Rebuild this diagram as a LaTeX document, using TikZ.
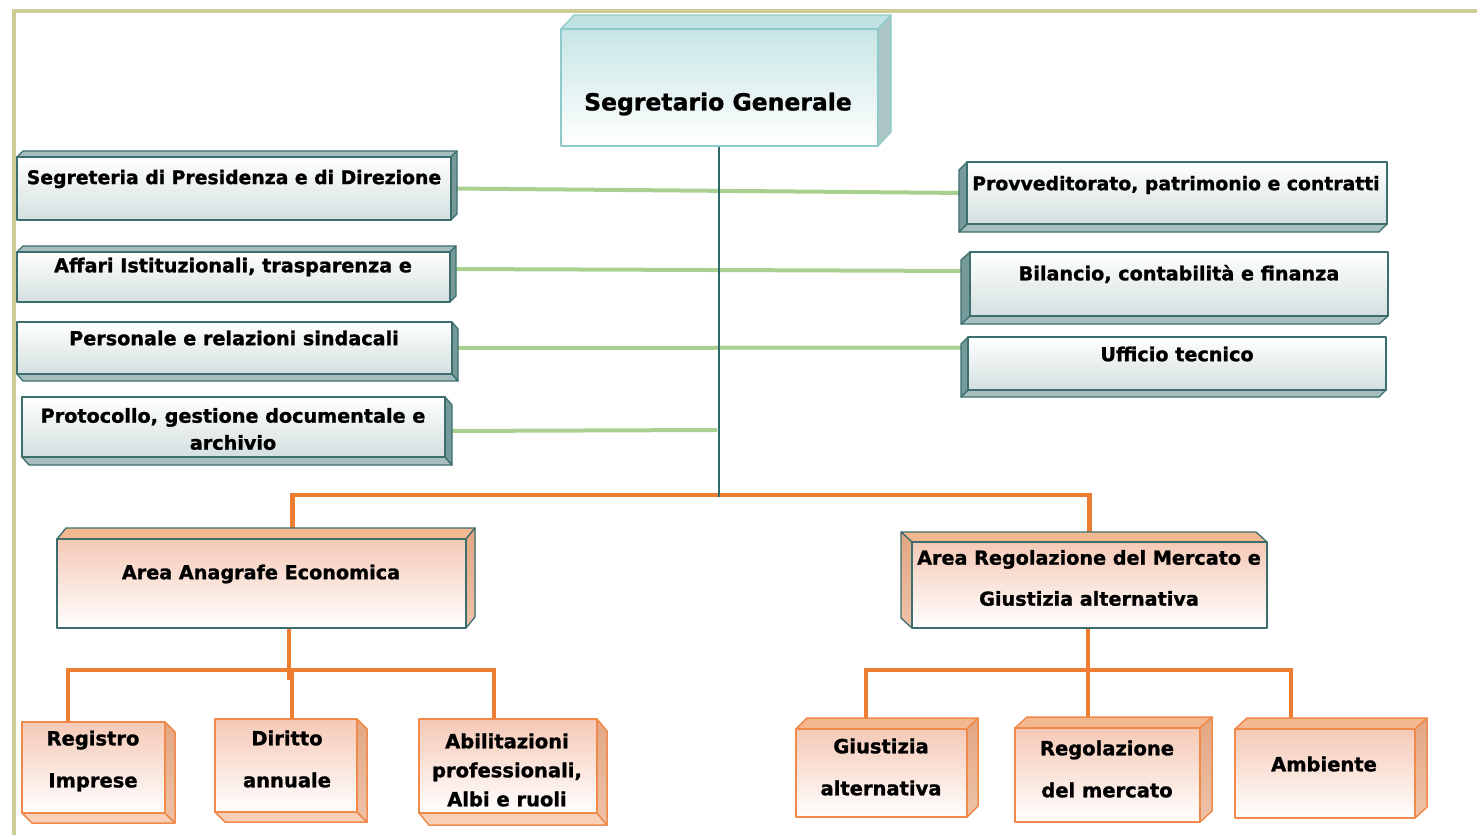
\documentclass[tikz,border=0pt]{standalone}
\usepackage{fontspec}
\setmainfont{DejaVu Sans}[BoldFeatures={FakeBold=1.2}]
\usetikzlibrary{calc}
\pgfdeclarelayer{background}
\pgfsetlayers{background,main}
\definecolor{framec}{HTML}{CDCD98}
\definecolor{tealb}{HTML}{8FCACA}
\definecolor{darkb}{HTML}{3C6E6E}
\definecolor{orb}{HTML}{F08A4B}
\definecolor{pinkf}{HTML}{F5C9B6}
\definecolor{facep}{HTML}{F4B891}
\definecolor{facepl}{HTML}{F8D0B8}
\definecolor{sidep}{HTML}{E2A683}
\definecolor{sidepl}{HTML}{EEC3A9}
\definecolor{oline}{HTML}{ED7D31}
\definecolor{gline}{HTML}{A9D08E}
\definecolor{trunkc}{HTML}{2E6A6A}
\newcommand{\fsz}[2]{\fontsize{#1}{#2}\selectfont\bfseries}
\newcommand{\mkbox}[8]{%
  \pgfmathsetmacro\hy{(#8<0)?#4:#6}%
  \pgfmathsetmacro\vx{(#7>0)?#5:#3}%
  \ifdim #8pt<0pt \def\hsuf{t}\else\def\hsuf{b}\fi
  \edef\hopts{#2/hface\hsuf}%
  \expandafter\filldraw\expandafter[\hopts] (#3,\hy) -- (#5,\hy) -- (#5+#7,\hy+#8) -- (#3+#7,\hy+#8) -- cycle;
  \filldraw[#2/vface] (\vx,#4) -- (\vx,#6) -- (\vx+#7,#6+#8) -- (\vx+#7,#4+#8) -- cycle;
  \node[#2/front, minimum width=#5-#3, minimum height=#6-#4, anchor=north west] (#1) at (#3,#4) {};
}
\tikzset{
  frameline/.style={line width=4pt, color=framec},
  tbox/hfacet/.style={fill=tealb!55, draw=tealb, line width=1.3pt},
  tbox/hfaceb/.style={fill=tealb!55, draw=tealb, line width=1.3pt},
  tbox/vface/.style={fill=tealb!60!gray!70, draw=tealb, line width=1.3pt},
  tbox/front/.style={draw=tealb, line width=1.3pt, top color=tealb!50, bottom color=white, inner sep=0pt, outer sep=0pt},
  gbox/hfacet/.style={fill=darkb!45, draw=darkb, line width=1.3pt},
  gbox/hfaceb/.style={fill=darkb!45, draw=darkb, line width=1.3pt},
  gbox/vface/.style={fill=darkb!70, draw=darkb, line width=1.3pt},
  gbox/front/.style={draw=darkb, line width=1.3pt, top color=white, bottom color=darkb!22, inner sep=0pt, outer sep=0pt},
  abox/hfacet/.style={fill=facep, draw=darkb, line width=1.3pt},
  abox/hfaceb/.style={fill=facepl, draw=darkb, line width=1.3pt},
  abox/vface/.style={top color=sidep, bottom color=sidepl, draw=darkb, line width=1.3pt},
  abox/front/.style={draw=darkb, line width=1.3pt, top color=pinkf, bottom color=white, inner sep=0pt, outer sep=0pt},
  sbox/hfacet/.style={fill=facep, draw=orb, line width=1.5pt},
  sbox/hfaceb/.style={fill=facepl, draw=orb, line width=1.5pt},
  sbox/vface/.style={top color=sidep, bottom color=sidepl, draw=orb, line width=1.5pt},
  sbox/front/.style={draw=orb, line width=1.5pt, top color=pinkf, bottom color=white, inner sep=0pt, outer sep=0pt},
  txt/.style={inner sep=0pt, align=center, font=\fsz{19.2}{23}},
  greenl/.style={line width=4pt, color=gline},
  orangel/.style={line width=4.5pt, color=oline},
  trunk/.style={line width=2pt, color=trunkc},
}
\begin{document}
\begin{tikzpicture}[x=1pt,y=-1pt,line join=round]
\useasboundingbox (0,0) rectangle (1477,835);

\mkbox{sg}{tbox}{561}{29}{878}{146}{13}{-14}
\mkbox{b1}{gbox}{17}{157}{451}{220}{6}{-6}
\mkbox{b2}{gbox}{17}{252}{450}{302}{6}{-6}
\mkbox{b3}{gbox}{17}{322}{452}{374}{6}{7}
\mkbox{b4}{gbox}{22}{397}{445}{457}{7}{8}
\mkbox{r1}{gbox}{967}{162}{1387}{224}{-8}{8}
\mkbox{r2}{gbox}{970}{252}{1388}{316}{-9}{8}
\mkbox{r3}{gbox}{968}{337}{1386}{390}{-7}{7}
\mkbox{aa}{abox}{57}{539}{466}{628}{9}{-11}
\mkbox{ar}{abox}{912}{542}{1267}{628}{-11}{-10}
\mkbox{reg}{sbox}{22}{722}{165}{813}{10}{10}
\mkbox{dir}{sbox}{215}{719}{357}{812}{10}{10}
\mkbox{abi}{sbox}{419}{719}{597}{813}{10}{12}
\mkbox{gi}{sbox}{796}{729}{967}{817}{11}{-11}
\mkbox{rm}{sbox}{1015}{728}{1200}{822}{12}{-11}
\mkbox{am}{sbox}{1235}{729}{1415}{818}{12}{-11}

\node[txt, font=\fsz{23.5}{28}] (tsg) at (718,104) {Segretario Generale};
\node[txt, font=\fsz{18.8}{23}] (t1) at (234,179) {Segreteria di Presidenza e di Direzione};
\node[txt] (t2) at (233,267) {Affari Istituzionali, trasparenza e};
\node[txt] (t3) at (234,338) {Personale e relazioni sindacali};
\node[txt, font=\fsz{19.2}{27}] (t4) at (233,429) {Protocollo, gestione documentale e\\archivio};
\node[txt, font=\fsz{18.8}{23}] (tr1) at (1176,185) {Provveditorato, patrimonio e contratti};
\node[txt] (tr2) at (1179,274) {Bilancio, contabilità e finanza};
\node[txt] (tr3) at (1177,354) {Ufficio tecnico};
\node[txt] (taa) at (261,574) {Area Anagrafe Economica};
\node[txt, font=\fsz{19.2}{41}] (tar) at (1089,578) {Area Regolazione del Mercato e\\Giustizia alternativa};
\node[txt, font=\fsz{19.5}{42}] (treg) at (93,761) {Registro\\Imprese};
\node[txt, font=\fsz{19.5}{42}] (tdir) at (287,759) {Diritto\\annuale};
\node[txt, font=\fsz{19.5}{29}] (tabi) at (507,770) {Abilitazioni\\professionali,\\Albi e ruoli};
\node[txt, font=\fsz{19.5}{42}] (tgi) at (881,767) {Giustizia\\alternativa};
\node[txt, font=\fsz{19.5}{42}] (trm) at (1107,769) {Regolazione\\del mercato};
\node[txt, font=\fsz{19.5}{23}] (tam) at (1324,764) {Ambiente};

\coordinate (hub) at (719,497);
\coordinate (hub2) at (719,495);
\coordinate (j4) at (717,430);
\coordinate (ja) at (289,670);
\coordinate (jr) at (1088,670);

\begin{pgfonlayer}{background}
\fill[white] (0,0) rectangle (1477,835);
\draw[frameline] (12,11) -- (1477,11);
\draw[frameline] (14,11) -- (14,835);
\draw[greenl] (b1.east) -- (r1.west);
\draw[greenl] ([yshift=8pt]b2.east) -- ([yshift=13pt]r2.west);
\draw[greenl] (b3.east) -- ([yshift=16pt]r3.west);
\draw[greenl] ([yshift=-4pt]b4.east) -- (j4);
\draw[orangel] ([xshift=31pt]aa.north) |- (hub2) -| (ar.north);
\draw[trunk] (hub |- sg.south) -- (hub);
\draw[orangel] ([xshift=27.5pt]aa.south) -- ++(0,52);
\draw[orangel] ([xshift=-25.5pt]reg.north) |- (ja) -| ([xshift=-14pt]abi.north);
\draw[orangel] ([xshift=6pt]dir.north) -- ++(0,-49);
\draw[orangel] ([xshift=-1.5pt]ar.south) -- (jr);
\draw[orangel] ([xshift=-15.5pt]gi.north) |- (jr) -| ([xshift=-34pt]am.north);
\draw[orangel] ([xshift=-19.5pt]rm.north) -- ++(0,-58);
\end{pgfonlayer}
\end{tikzpicture}
\end{document}
